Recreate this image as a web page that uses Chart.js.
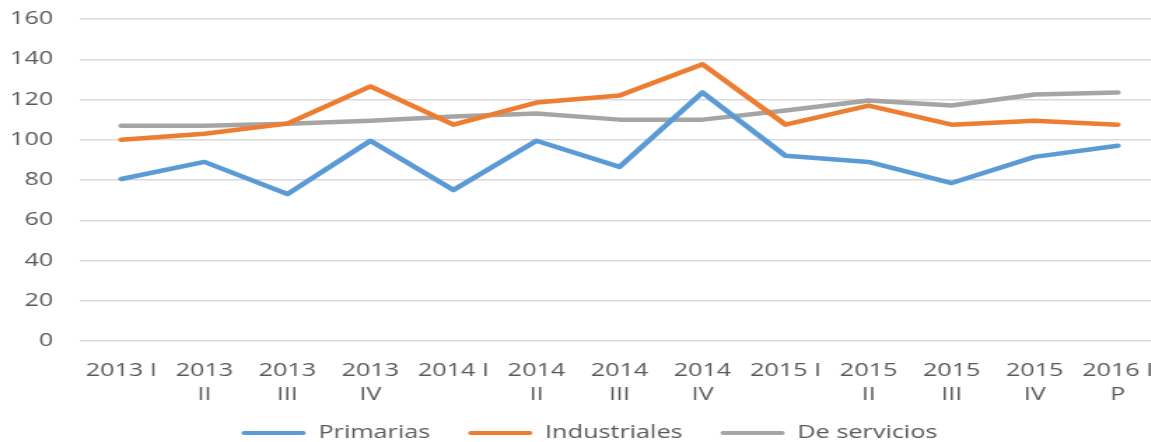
<!DOCTYPE html>
<html>
<head>
<meta charset="utf-8">
<script src="https://cdn.jsdelivr.net/npm/chart.js@4/dist/chart.umd.min.js"></script>
<style>
  html, body { margin: 0; padding: 0; background: #fff; overflow: hidden; }
  #wrap { width: 1151px; height: 442px; overflow: hidden; position: relative; }
  /* the original picture is stretched sideways, so stretch the canvas the same way */
  #stretch { transform: scaleX(1.4); transform-origin: 0 0; width: 848px; }
</style>
</head>
<body>
<div id="wrap"><div id="stretch"><canvas id="chart-trim" width="848" height="462"></canvas></div></div>
<script>
var categories = ['2013 I', '2013 II', '2013 III', '2013 IV', '2014 I', '2014 II', '2014 III',
    '2014 IV', '2015 I', '2015 II', '2015 III', '2015 IV', '2016 I P'];
var tickLabels = [['2013 I'], ['2013', 'II'], ['2013', 'III'], ['2013', 'IV'], ['2014 I'], ['2014', 'II'],
    ['2014', 'III'], ['2014', 'IV'], ['2015 I'], ['2015', 'II'], ['2015', 'III'], ['2015', 'IV'], ['2016 I', 'P']];
var primarias = [80.5, 89, 73, 99.5, 75, 99.5, 86.5, 123.5, 92, 89, 78.5, 91.5, 97];
var industriales = [100, 103, 108, 126.5, 107.5, 118.5, 122, 137.5, 107.5, 117, 107.5, 109.5, 107.5];
var servicios = [107, 107, 108, 109.5, 111.5, 113, 110, 110, 114.5, 119.5, 117, 122.5, 123.5];

var textColor = '#595959';

function serie(label, data, color) {
    return {
        label: label,
        data: data,
        borderColor: color,
        backgroundColor: color,
        borderWidth: 4.5,
        pointRadius: 0,
        pointHoverRadius: 0,
        tension: 0,
        borderJoinStyle: 'round',
        borderCapStyle: 'round'
    };
}

// nudge the legend a bit up and right, like in the original
const legendShift = {
    id: 'legendShift',
    afterLayout(chart) {
        const lg = chart.legend;
        if (!lg) return;
        lg.top -= 10; lg.bottom -= 10;
        lg.left += 7; lg.right += 7;
    }
};

const ctx = document.getElementById('chart-trim').getContext('2d');
new Chart(ctx, {
    type: 'line',
    data: {
        labels: categories,
        datasets: [
            serie('Primarias', primarias, '#5B9BD5'),
            serie('Industriales', industriales, '#ED7D31'),
            serie('De servicios', servicios, '#A5A5A5')
        ]
    },
    plugins: [legendShift],
    options: {
        responsive: false,
        animation: false,
        layout: { padding: { top: 19, right: 20, left: 0, bottom: 0 } },
        scales: {
            x: {
                offset: true,
                grid: { display: false, drawTicks: false },
                border: { display: false },
                ticks: {
                    color: textColor,
                    font: { family: 'Open Sans', size: 18, lineHeight: 1.33 },
                    padding: 18,
                    maxRotation: 0,
                    autoSkip: false,
                    callback: function (value, index) { return tickLabels[index]; }
                },
                afterFit: function (scale) {
                    scale.height = 66;
                    scale.paddingLeft = 0;
                    scale.paddingRight = 0;
                }
            },
            y: {
                min: 0,
                max: 160,
                grid: { color: '#D9D9D9', lineWidth: 1.5, drawTicks: false },
                border: { display: false },
                ticks: {
                    stepSize: 20,
                    color: textColor,
                    font: { family: 'Open Sans', size: 18 },
                    padding: 19
                },
                afterFit: function (scale) {
                    scale.width = 57;
                    scale.paddingTop = 0;
                    scale.paddingBottom = 0;
                }
            }
        },
        plugins: {
            tooltip: { enabled: false },
            legend: {
                position: 'bottom',
                labels: {
                    color: textColor,
                    font: { family: 'Open Sans', size: 18 },
                    boxWidth: 46,
                    boxHeight: 4,
                    padding: 27,
                    useBorderRadius: true,
                    borderRadius: 2,
                    generateLabels: function (chart) {
                        const items = Chart.defaults.plugins.legend.labels.generateLabels(chart);
                        items.forEach(function (item) { item.lineWidth = 0; });
                        return items;
                    }
                }
            }
        }
    }
});
</script>
</body>
</html>
